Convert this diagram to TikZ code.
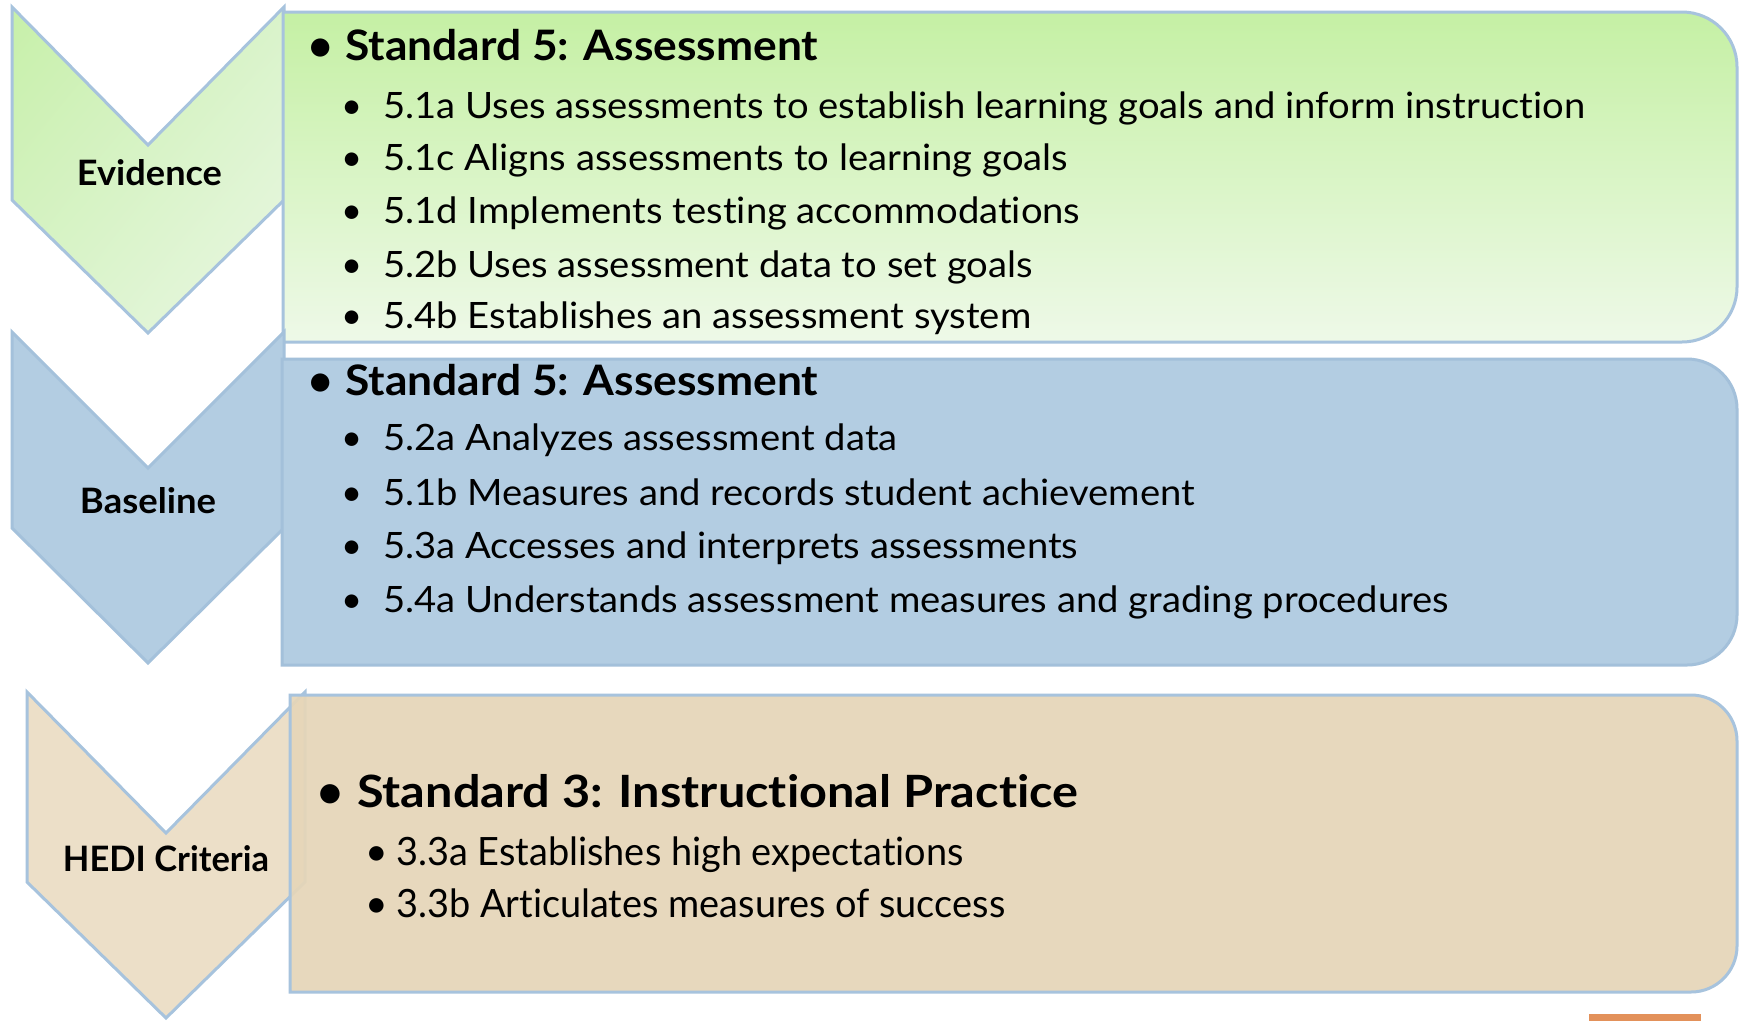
\documentclass[tikz,border=0pt]{standalone}
\usepackage{fontspec}
\setmainfont{Lato}[Ligatures=NoCommon]
\usepackage{graphicx}
\usetikzlibrary{shadings}

\definecolor{edgeblue}{HTML}{A7C3DD}
\definecolor{greentop}{HTML}{C5F0A4}
\definecolor{greenbot}{HTML}{EEF9E8}
\definecolor{chevgA}{HTML}{C7F0A9}
\definecolor{chevgB}{HTML}{D9F3CA}
\definecolor{chevgC}{HTML}{EAF7E3}
\definecolor{bluefill}{HTML}{B3CDE2}
\definecolor{blueedge}{HTML}{A3C0DA}
\definecolor{tanfill}{HTML}{E6D6B8}
\definecolor{tanchev}{HTML}{ECDFC8}
\definecolor{orangebar}{HTML}{E3915A}

% font sizes of the kinds of lines
\newcommand\subsize{\fontsize{36.3}{40}\selectfont}
\newcommand\titsize{\fontsize{42}{46}\selectfont\bfseries}
\newcommand\bigtitsize{\fontsize{44.5}{48}\selectfont\bfseries}
\newcommand\bigsubsize{\fontsize{39}{43}\selectfont}
\newcommand\lblsize{\fontsize{35}{40}\selectfont\bfseries}

% horizontal fitting factor: #1 macro, #2 wanted width (pt), #3 sample text
\newlength\natw
\newcommand\setfit[3]{\settowidth\natw{\normalfont#3}\pgfmathsetmacro#1{#2/\natw}}

\AtBeginDocument{%
  \setfit\fsub{1202}{\subsize 5.1a Uses assessments to establish learning goals and inform instruction}%
  \setfit\ftit{473}{\titsize Standard 5: Assessment}%
  \setfit\fbigtit{721}{\bigtitsize Standard 3: Instructional Practice}%
  \setfit\fbigsub{609}{\bigsubsize 3.3b Articulates measures of success}%
}

% a bullet hung left of the text start
\newcommand\hangbullet[1]{\llap{\makebox[0pt]{\textbullet}\hspace{#1}}}

\begin{document}
\begin{tikzpicture}[x=1pt,y=-1pt,line join=miter]
\useasboundingbox (0,0) rectangle (1739,1021);
\fill[white] (0,0) rectangle (1739,1021);

\tikzset{
  chev/.style={draw=edgeblue,line width=3pt},
  panel/.style={draw=edgeblue,line width=3pt},
  txt/.style={anchor=base west,inner sep=0pt,text=black},
  title/.style={txt,font=\titsize},
  item/.style={txt,font=\subsize},
  bigtitle/.style={txt,font=\bigtitsize},
  bigitem/.style={txt,font=\bigsubsize},
  lbl/.style={anchor=base,inner sep=0pt,text=black,font=\lblsize},
}

% ---------- Evidence ----------
\shadedraw[chev,upper left=chevgA,upper right=chevgB,lower left=chevgB,lower right=chevgC]
  (12,7) -- (148,145) -- (284,7) -- (284,200) -- (148,333) -- (12,200) -- cycle;
\shadedraw[panel,top color=greentop,bottom color=greenbot]
  (283,12) -- (1682,12) arc[start angle=270,end angle=360,radius=55]
  -- (1737,287) arc[start angle=0,end angle=90,radius=55] -- (283,342) -- cycle;

\node[lbl] (lev) at (149.5,185) {\resizebox{145pt}{\height}{Evidence}};
\node[title] (e0) at (345,60) {\hangbullet{25pt}\scalebox{\ftit}[1]{Standard 5: Assessment}};
\node[item] (e1) at (383,118) {\hangbullet{31pt}\scalebox{\fsub}[1]{5.1a Uses assessments to establish learning goals and inform instruction}};
\node[item] (e2) at (383,170) {\hangbullet{31pt}\scalebox{\fsub}[1]{5.1c Aligns assessments to learning goals}};
\node[item] (e3) at (383,223) {\hangbullet{31pt}\scalebox{\fsub}[1]{5.1d Implements testing accommodations}};
\node[item] (e4) at (383,277) {\hangbullet{31pt}\scalebox{\fsub}[1]{5.2b Uses assessment data to set goals}};
\node[item] (e5) at (383,328) {\hangbullet{31pt}\scalebox{\fsub}[1]{5.4b Establishes an assessment system}};

% ---------- Baseline ----------
\filldraw[chev,fill=bluefill,draw=blueedge!80!edgeblue]
  (12,332) -- (148,468) -- (284,332) -- (284,528) -- (148,663) -- (12,528) -- cycle;
\filldraw[panel,fill=bluefill,draw=blueedge]
  (282,359) -- (1687,359) arc[start angle=270,end angle=360,radius=50]
  -- (1737,615) arc[start angle=0,end angle=90,radius=50] -- (282,665) -- cycle;

\node[lbl] (lba) at (148,513) {\resizebox{136pt}{\height}{Baseline}};
\node[title] (b0) at (345,395) {\hangbullet{25pt}\scalebox{\ftit}[1]{Standard 5: Assessment}};
\node[item] (b1) at (383,450) {\hangbullet{31pt}\scalebox{\fsub}[1]{5.2a Analyzes assessment data}};
\node[item] (b2) at (383,505) {\hangbullet{31pt}\scalebox{\fsub}[1]{5.1b Measures and records student achievement}};
\node[item] (b3) at (383,558) {\hangbullet{31pt}\scalebox{\fsub}[1]{5.3a Accesses and interprets assessments}};
\node[item] (b4) at (383,612) {\hangbullet{31pt}\scalebox{\fsub}[1]{5.4a Understands assessment measures and grading procedures}};

% ---------- HEDI Criteria ----------
\filldraw[chev,fill=tanchev]
  (27,692) -- (166,833) -- (305,692) -- (305,882) -- (166,1018) -- (27,882) -- cycle;
\filldraw[panel,fill=tanfill,fill opacity=0.93]
  (290,695) -- (1691,695) arc[start angle=270,end angle=360,radius=46]
  -- (1737,946) arc[start angle=0,end angle=90,radius=46] -- (290,992) -- cycle;

\node[lbl] (lhe) at (166,871) {\resizebox{206pt}{\height}{HEDI Criteria}};
\node[bigtitle] (h0) at (357,807) {\hangbullet{27pt}\scalebox{\fbigtit}[1]{Standard 3: Instructional Practice}};
\node[bigitem] (h1) at (396,865) {\hangbullet{19pt}\scalebox{\fbigsub}[1]{3.3a Establishes high expectations}};
\node[bigitem] (h2) at (396,917) {\hangbullet{19pt}\scalebox{\fbigsub}[1]{3.3b Articulates measures of success}};

% small accent bar at the foot
\fill[orangebar] (1589,1014) rectangle (1701,1021);
\end{tikzpicture}
\end{document}
